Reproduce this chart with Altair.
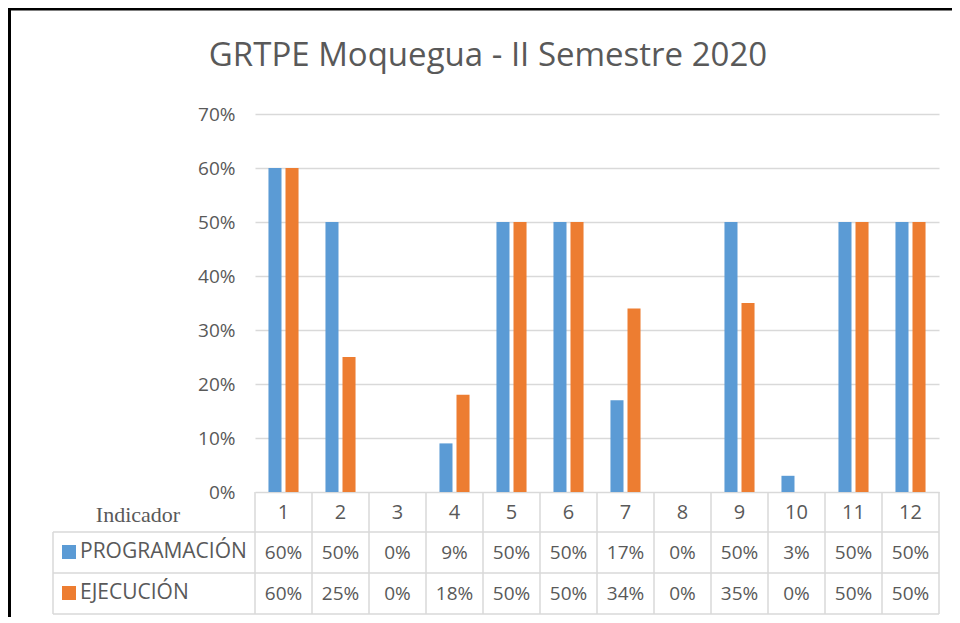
import altair as alt
import pandas as pd

# ---- data ----
indicadores = [str(i) for i in range(1, 13)]
programacion = [0.60, 0.50, 0.00, 0.09, 0.50, 0.50, 0.17, 0.00, 0.50, 0.03, 0.50, 0.50]
ejecucion = [0.60, 0.25, 0.00, 0.18, 0.50, 0.50, 0.34, 0.00, 0.35, 0.00, 0.50, 0.50]
series = ["PROGRAMACIÓN", "EJECUCIÓN"]
colores = ["#5B9BD5", "#ED7D31"]
y_ticks = [0.0, 0.1, 0.2, 0.3, 0.4, 0.5, 0.6, 0.7]
titulo = "GRTPE Moquegua - II Semestre 2020"
etiqueta_tabla = "Indicador"

rows = []
for s, vals in zip(series, [programacion, ejecucion]):
    for c, v in zip(indicadores, vals):
        rows.append({"indicador": c, "serie": s, "valor": v})
df = pd.DataFrame(rows)

W, H = 684, 378
GRAY = "#595959"
LINE = "#D9D9D9"
FONT = "Open Sans"

x_scale = alt.Scale(domain=indicadores, paddingInner=0, paddingOuter=0)
color_scale = alt.Scale(domain=series, range=colores)

base = alt.Chart(df)

bars = base.mark_bar().encode(
    x=alt.X("indicador:N", scale=x_scale, axis=None, sort=indicadores),
    xOffset=alt.XOffset("serie:N", sort=series,
                        scale=alt.Scale(domain=series, paddingInner=0.235, paddingOuter=0.79)),
    y=alt.Y("valor:Q", scale=alt.Scale(domain=[0, 0.7], nice=False),
            axis=alt.Axis(values=y_ticks, format=".0%", title=None, domain=False, ticks=False,
                          labelPadding=20, labelFont=FONT, labelFontSize=19, labelColor=GRAY,
                          gridColor=LINE, gridWidth=1.5)),
    color=alt.Color("serie:N", scale=color_scale, legend=None),
)

prog_only = base.transform_filter(alt.datum.serie == series[0])
one_row = prog_only.transform_filter(alt.datum.indicador == indicadores[0])

# vertical table lines at each band start, plus the closing one
vlines = prog_only.mark_rule(color=LINE, strokeWidth=1.5).encode(
    x=alt.X("indicador:N", scale=x_scale, axis=None, bandPosition=0),
    y=alt.value(H), y2=alt.value(500),
)
vline_end = prog_only.transform_filter(alt.datum.indicador == indicadores[-1]).mark_rule(
    color=LINE, strokeWidth=1.5).encode(
    x=alt.X("indicador:N", scale=x_scale, axis=None, bandPosition=1),
    y=alt.value(H), y2=alt.value(500),
)
vline_left = one_row.mark_rule(color=LINE, strokeWidth=1.5).encode(
    x=alt.value(-202), y=alt.value(418), y2=alt.value(500))

def hline(yv):
    return one_row.mark_rule(color=LINE, strokeWidth=1.5).encode(
        x=alt.value(-202), x2=alt.value(W), y=alt.value(yv))

header = prog_only.mark_text(font=FONT, fontSize=20, color=GRAY, baseline="middle").encode(
    x=alt.X("indicador:N", scale=x_scale, axis=None),
    text="indicador:N", y=alt.value(399))

def value_row(serie, yv):
    return base.transform_filter(alt.datum.serie == serie).mark_text(
        font=FONT, fontSize=19, color=GRAY, baseline="middle").encode(
        x=alt.X("indicador:N", scale=x_scale, axis=None),
        text=alt.Text("valor:Q", format=".0%"), y=alt.value(yv))

def legend_row(serie, yv):
    d = base.transform_filter(alt.datum.serie == serie).transform_filter(
        alt.datum.indicador == indicadores[0])
    sq = d.mark_square(size=196, opacity=1, filled=True).encode(
        x=alt.value(-186), y=alt.value(yv),
        color=alt.Color("serie:N", scale=color_scale, legend=None))
    tx = d.mark_text(font=FONT, fontSize=21, color=GRAY, align="left", baseline="middle").encode(
        x=alt.value(-175), y=alt.value(yv), text="serie:N")
    return sq + tx

indicador_lbl = one_row.mark_text(
    font="Liberation Serif", fontSize=22, color=GRAY, align="center", baseline="alphabetic").encode(
    x=alt.value(-117), y=alt.value(408), text=alt.value(etiqueta_tabla))

title_mark = one_row.mark_text(
    font=FONT, fontSize=33, color=GRAY, align="center", baseline="middle").encode(
    x=alt.value(233), y=alt.value(-58), text=alt.value(titulo))

border_left = one_row.mark_rule(color="black", strokeWidth=6).encode(
    x=alt.value(-247), y=alt.value(-106), y2=alt.value(520))
border_top = one_row.mark_rule(color="black", strokeWidth=5).encode(
    x=alt.value(-247), x2=alt.value(710), y=alt.value(-106))

chart = alt.layer(
    bars, vlines, vline_end, vline_left, hline(418), hline(459), hline(500),
    header, value_row(series[0], 439), value_row(series[1], 480),
    legend_row(series[0], 438), legend_row(series[1], 479),
    indicador_lbl, title_mark, border_left, border_top,
).properties(
    width=W, height=H,
    autosize=alt.AutoSizeParams(type="none"),
    padding={"left": 247, "top": 106, "right": 13, "bottom": 125},
).configure(background="white").configure_view(stroke="transparent", strokeWidth=0)

chart.save("out.html", embed_options={"renderer": "svg", "actions": False})
